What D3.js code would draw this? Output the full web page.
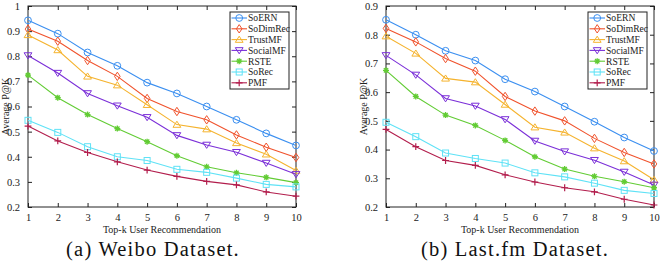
<!DOCTYPE html>
<html>
<head>
<meta charset="utf-8">
<script src="https://cdn.jsdelivr.net/npm/d3@7"></script>
<style>
  body { margin: 0; background: #fff; }
  svg text { font-family: "Liberation Serif", "Times New Roman", serif; }
</style>
</head>
<body>
<svg id="chart" width="660" height="262"></svg>
<script>
const methods = ["SoERN", "SoDimRec", "TrustMF", "SocialMF", "RSTE", "SoRec", "PMF"];
const colors = ["#3b8ff0", "#f0522c", "#f5b32e", "#7b2fd8", "#62cc34", "#5fe2f6", "#b21d4c"];
const shapes = ["circle", "diamond", "up", "down", "star", "square", "plus"];
const topK = [1, 2, 3, 4, 5, 6, 7, 8, 9, 10];

const weibo = [
  [0.943, 0.890, 0.815, 0.762, 0.695, 0.652, 0.600, 0.547, 0.493, 0.445],
  [0.908, 0.860, 0.783, 0.720, 0.632, 0.580, 0.547, 0.487, 0.438, 0.397],
  [0.885, 0.825, 0.720, 0.685, 0.607, 0.528, 0.510, 0.455, 0.410, 0.345],
  [0.803, 0.733, 0.652, 0.603, 0.557, 0.485, 0.447, 0.418, 0.375, 0.330],
  [0.725, 0.635, 0.568, 0.512, 0.460, 0.404, 0.360, 0.336, 0.318, 0.297],
  [0.545, 0.497, 0.440, 0.400, 0.385, 0.350, 0.338, 0.315, 0.290, 0.280],
  [0.522, 0.463, 0.417, 0.380, 0.347, 0.322, 0.302, 0.288, 0.260, 0.243]
];
const lastfm = [
  [0.852, 0.800, 0.744, 0.710, 0.645, 0.602, 0.550, 0.497, 0.442, 0.395],
  [0.822, 0.775, 0.717, 0.673, 0.585, 0.534, 0.500, 0.439, 0.390, 0.350],
  [0.795, 0.735, 0.648, 0.635, 0.557, 0.478, 0.460, 0.405, 0.360, 0.295],
  [0.728, 0.660, 0.578, 0.552, 0.505, 0.430, 0.393, 0.363, 0.322, 0.277],
  [0.676, 0.585, 0.520, 0.484, 0.432, 0.375, 0.332, 0.307, 0.288, 0.267],
  [0.495, 0.445, 0.388, 0.369, 0.353, 0.319, 0.305, 0.283, 0.258, 0.247],
  [0.470, 0.410, 0.362, 0.345, 0.312, 0.287, 0.267, 0.253, 0.227, 0.207]
];

const weiboTicks = [0.2, 0.3, 0.4, 0.5, 0.6, 0.7, 0.8, 0.9, 1];
const lastfmTicks = [0.2, 0.3, 0.4, 0.5, 0.6, 0.7, 0.8, 0.9];

const svg = d3.select("#chart");

function drawMarker(g, shape, color) {
  const s = 3.4;
  if (shape === "circle") {
    g.append("circle").attr("r", s).attr("fill", "none").attr("stroke", color);
  } else if (shape === "diamond") {
    g.append("path").attr("d", `M0,${-s - 0.8}L${s - 0.6},0L0,${s + 0.8}L${-s + 0.6},0Z`)
      .attr("fill", "none").attr("stroke", color);
  } else if (shape === "up") {
    g.append("path").attr("d", `M0,${-s}L${s + 0.5},${s * 0.8}L${-s - 0.5},${s * 0.8}Z`)
      .attr("fill", "none").attr("stroke", color);
  } else if (shape === "down") {
    g.append("path").attr("d", `M0,${s}L${s + 0.5},${-s * 0.8}L${-s - 0.5},${-s * 0.8}Z`)
      .attr("fill", "none").attr("stroke", color);
  } else if (shape === "square") {
    g.append("rect").attr("x", -s + 0.4).attr("y", -s + 0.4)
      .attr("width", 2 * s - 0.8).attr("height", 2 * s - 0.8)
      .attr("fill", "none").attr("stroke", color);
  } else if (shape === "plus") {
    g.append("path").attr("d", `M${-s},0H${s}M0,${-s}V${s}`).attr("stroke", color).attr("stroke-width", 1.2);
  } else if (shape === "star") {
    const r = 3;
    const q = r * 0.72;
    const d = `M${-r},0H${r}M0,${-r}V${r}M${-q},${-q}L${q},${q}M${-q},${q}L${q},${-q}`;
    g.append("path").attr("d", d).attr("stroke", color).attr("stroke-width", 1.3);
  }
}

function drawChart(opts) {
  const g = svg.append("g");
  const x = d3.scaleLinear().domain([1, 10]).range([opts.left, opts.right]);
  const y = d3.scaleLinear().domain(opts.yDomain).range([207, 6]);

  g.append("rect")
    .attr("x", opts.left).attr("y", 6)
    .attr("width", opts.right - opts.left).attr("height", 201)
    .attr("fill", "none").attr("stroke", "#222").attr("stroke-width", 1);

  // MATLAB style: ticks point inward on every side
  const axB = g.append("g").attr("transform", "translate(0,207)")
    .call(d3.axisBottom(x).tickValues(topK).tickSize(-4).tickPadding(7).tickFormat(d3.format("d")));
  const axT = g.append("g").attr("transform", "translate(0,6)")
    .call(d3.axisTop(x).tickValues(topK).tickSize(-4).tickFormat(""));
  const axL = g.append("g").attr("transform", `translate(${opts.left},0)`)
    .call(d3.axisLeft(y).tickValues(opts.ticks).tickSize(-4).tickPadding(8)
      .tickFormat(d => d === 1 ? "1" : d3.format(".1f")(d)));
  const axR = g.append("g").attr("transform", `translate(${opts.right},0)`)
    .call(d3.axisRight(y).tickValues(opts.ticks).tickSize(-4).tickFormat(""));
  [axB, axT, axL, axR].forEach(a => {
    a.attr("font-family", null);
    a.select(".domain").remove();
    a.selectAll("line").attr("stroke", "#222");
    a.selectAll("text").attr("font-size", 10.5).attr("fill", "#222");
  });

  const line = d3.line().x((d, i) => x(topK[i])).y(d => y(d));
  opts.data.forEach((vals, k) => {
    g.append("path").datum(vals).attr("d", line)
      .attr("fill", "none").attr("stroke", colors[k]).attr("stroke-width", 1.1);
    vals.forEach((v, i) => {
      const m = g.append("g").attr("transform", `translate(${x(topK[i])},${y(v)})`);
      drawMarker(m, shapes[k], colors[k]);
    });
  });

  // legend
  const lg = g.append("g").attr("transform", `translate(${opts.right - 66},12)`);
  lg.append("rect").attr("width", 59).attr("height", 77)
    .attr("fill", "#fff").attr("stroke", "#222").attr("stroke-width", 1);
  methods.forEach((name, k) => {
    const row = lg.append("g").attr("transform", `translate(0,${6 + k * 10.8})`);
    row.append("line").attr("x1", 1.5).attr("x2", 17).attr("stroke", colors[k]).attr("stroke-width", 1.1);
    drawMarker(row.append("g").attr("transform", "translate(9.2,0)"), shapes[k], colors[k]);
    row.append("text").attr("x", 18).attr("y", 3.4)
      .attr("font-size", 9.6).attr("fill", "#222").text(name);
  });

  g.append("text")
    .attr("transform", `translate(${opts.left - 19},${(6 + 207) / 2}) rotate(-90)`)
    .attr("text-anchor", "middle").attr("font-size", 10)
    .attr("fill", "#222").text("Average P@K");
  g.append("text")
    .attr("x", (opts.left + opts.right) / 2).attr("y", 232.5)
    .attr("text-anchor", "middle").attr("font-size", 10)
    .attr("fill", "#222").text("Top-k User Recommendation");
  g.append("text")
    .attr("x", opts.captionX).attr("y", 255.5)
    .attr("text-anchor", "middle").attr("font-size", 20.5).attr("letter-spacing", 1.2)
    .attr("fill", "#111").text(opts.caption);
}

drawChart({ left: 28, right: 296, yDomain: [0.2, 1], ticks: weiboTicks, data: weibo,
  caption: "(a) Weibo Dataset.", captionX: 153 });
drawChart({ left: 386, right: 654, yDomain: [0.2, 0.9], ticks: lastfmTicks, data: lastfm,
  caption: "(b) Last.fm Dataset.", captionX: 515 });
</script>
</body>
</html>
